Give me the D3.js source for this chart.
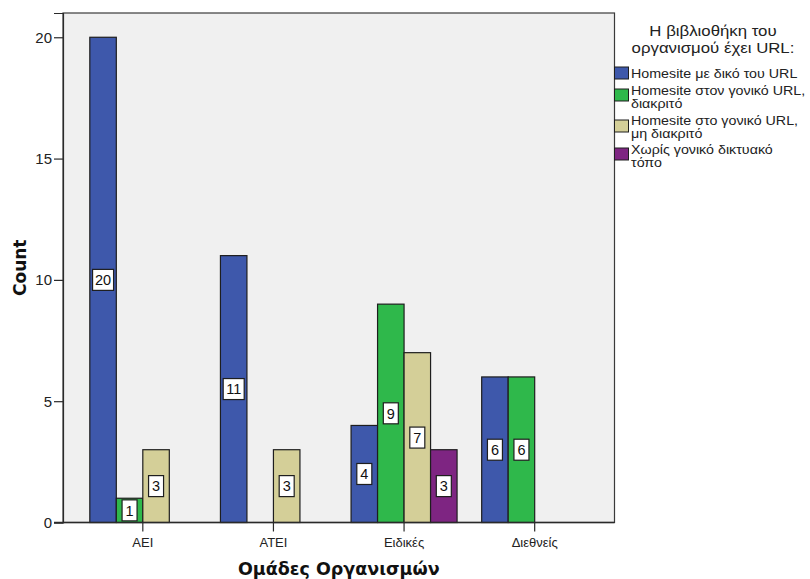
<!DOCTYPE html>
<html>
<head>
<meta charset="utf-8">
<script src="https://cdn.jsdelivr.net/npm/d3@7"></script>
<style>
  html, body { margin: 0; padding: 0; background: #ffffff; }
  svg { display: block; }
</style>
</head>
<body>
<svg id="chart" width="810" height="579"></svg>
<script>
// Organisation groups on the x axis
const categories = ["ΑΕΙ", "ΑΤΕΙ", "Ειδικές", "Διεθνείς"];

// One series per URL type (counts per group; null = no bar)
const seriesNames = [
  "Homesite με δικό του URL",
  "Homesite στον γονικό URL, διακριτό",
  "Homesite στο γονικό URL, μη διακριτό",
  "Χωρίς γονικό δικτυακό τόπο"
];
const legendLines = [
  ["Homesite με δικό του URL"],
  ["Homesite στον γονικό URL,", "διακριτό"],
  ["Homesite στο γονικό URL,", "μη διακριτό"],
  ["Χωρίς γονικό δικτυακό", "τόπο"]
];
const legendTitle = ["Η βιβλιοθήκη του", "οργανισμού έχει URL:"];
const ownUrl       = [20, 11, 4, 6];
const parentDistinct = [1, null, 9, 6];
const parentNonDistinct = [3, 3, 7, null];
const noParentSite = [null, null, 3, null];
const seriesValues = [ownUrl, parentDistinct, parentNonDistinct, noParentSite];

const seriesColors = ["#3e58ab", "#2fb84b", "#d4cf98", "#7e2582"];
const yTicks = [0, 5, 10, 15, 20];

const svg = d3.select("#chart");
const plot = { left: 63, right: 614.5, top: 13, bottom: 522.5 };

const x = d3.scaleBand()
  .domain(categories)
  .range([plot.left, plot.right])
  .paddingInner(0)
  .paddingOuter(0.111);

const xSub = d3.scaleBand()
  .domain(d3.range(seriesNames.length))
  .range([-53, 53]);

const y = d3.scaleLinear()
  .domain([0, 21])
  .range([plot.bottom, plot.top]);

// plot background and frame
svg.append("rect")
  .attr("x", plot.left).attr("y", plot.top)
  .attr("width", plot.right - plot.left).attr("height", plot.bottom - plot.top)
  .attr("fill", "#f0f0f0")
  .attr("stroke", "#3a3a3a").attr("stroke-width", 1.2);

// bars
const bars = [];
seriesValues.forEach((vals, s) => {
  vals.forEach((v, c) => {
    if (v != null) bars.push({ s, c, v });
  });
});

const barG = svg.append("g");
barG.selectAll("rect.bar")
  .data(bars)
  .join("rect")
  .attr("class", "bar")
  .attr("x", d => x(categories[d.c]) + x.bandwidth() / 2 + xSub(d.s))
  .attr("width", xSub.bandwidth())
  .attr("y", d => y(d.v))
  .attr("height", d => y(0) - y(d.v))
  .attr("fill", d => seriesColors[d.s])
  .attr("stroke", "#1e1e1e")
  .attr("stroke-width", 1.2);

// value labels in white boxes, centred in each bar
const labelG = barG.selectAll("g.lbl")
  .data(bars)
  .join("g")
  .attr("class", "lbl")
  .attr("transform", d => {
    const cx = x(categories[d.c]) + x.bandwidth() / 2 + xSub(d.s) + xSub.bandwidth() / 2;
    const cy = (y(d.v) + y(0)) / 2;
    return `translate(${cx},${cy})`;
  });
labelG.append("rect")
  .attr("x", d => String(d.v).length > 1 ? -10.5 : -7.5)
  .attr("y", -10.5)
  .attr("width", d => String(d.v).length > 1 ? 21 : 15)
  .attr("height", 21)
  .attr("fill", "#ffffff")
  .attr("stroke", "#1e1e1e")
  .attr("stroke-width", 1.2);
labelG.append("text")
  .attr("text-anchor", "middle")
  .attr("dy", "0.36em")
  .attr("font-family", "Liberation Sans, Arial, sans-serif")
  .attr("font-size", 14.5)
  .attr("fill", "#111")
  .text(d => d.v);

// y axis
const yAxis = svg.append("g")
  .attr("transform", `translate(${plot.left},0)`)
  .call(d3.axisLeft(y).tickValues(yTicks).tickSize(9).tickPadding(2));
yAxis.select(".domain").attr("stroke", "#2a2a2a").attr("stroke-width", 1.2);
yAxis.selectAll(".tick line").attr("stroke", "#2a2a2a").attr("stroke-width", 1.2);
yAxis.selectAll(".tick text")
  .attr("font-family", "Liberation Sans, Arial, sans-serif")
  .attr("font-size", 15)
  .attr("fill", "#222");

// x axis
const xAxis = svg.append("g")
  .attr("transform", `translate(0,${plot.bottom})`)
  .call(d3.axisBottom(x).tickSize(9).tickPadding(6));
xAxis.select(".domain").remove();
xAxis.append("line")
  .attr("x1", plot.left - 9).attr("x2", plot.right)
  .attr("stroke", "#2a2a2a").attr("stroke-width", 1.4);
xAxis.selectAll(".tick line").attr("stroke", "#2a2a2a").attr("stroke-width", 1.2);
xAxis.selectAll(".tick text")
  .attr("font-family", "Liberation Sans, Arial, sans-serif")
  .attr("font-size", 13)
  .attr("fill", "#222");

// axis titles
svg.append("text")
  .attr("x", (plot.left + plot.right) / 2).attr("y", 575)
  .attr("text-anchor", "middle")
  .attr("font-family", "DejaVu Sans, Verdana, sans-serif")
  .attr("font-weight", "bold")
  .attr("font-size", 17.5)
  .attr("fill", "#111")
  .text("Ομάδες Οργανισμών");

svg.append("text")
  .attr("transform", `translate(26,${(plot.top + plot.bottom) / 2}) rotate(-90)`)
  .attr("text-anchor", "middle")
  .attr("font-family", "DejaVu Sans, Verdana, sans-serif")
  .attr("font-weight", "bold")
  .attr("font-size", 17)
  .attr("fill", "#111")
  .text("Count");

// legend (text drawn slightly widened)
const legend = svg.append("g");
legend.selectAll("text.title")
  .data(legendTitle)
  .join("text")
  .attr("class", "title")
  .attr("transform", (d, i) => `translate(713,${36 + i * 17}) scale(1.2,1)`)
  .attr("text-anchor", "middle")
  .attr("font-family", "Liberation Sans, Arial, sans-serif")
  .attr("font-size", 14)
  .attr("fill", "#222")
  .text(d => d);

const swatchTops = [67, 89, 120, 148];
const firstBaselines = [78, 95, 125, 154];
const item = legend.selectAll("g.item")
  .data(seriesNames)
  .join("g")
  .attr("class", "item");
item.append("rect")
  .attr("x", 614.5)
  .attr("y", (d, i) => swatchTops[i])
  .attr("width", 14).attr("height", 12)
  .attr("fill", (d, i) => seriesColors[i])
  .attr("stroke", "#1e1e1e").attr("stroke-width", 1);
item.selectAll("text")
  .data((d, i) => legendLines[i].map((t, j) => ({ t, y: firstBaselines[i] + j * 13.3 })))
  .join("text")
  .attr("transform", d => `translate(631,${d.y}) scale(1.19,1)`)
  .attr("font-family", "Liberation Sans, Arial, sans-serif")
  .attr("font-size", 12)
  .attr("fill", "#222")
  .text(d => d.t);
</script>
</body>
</html>
